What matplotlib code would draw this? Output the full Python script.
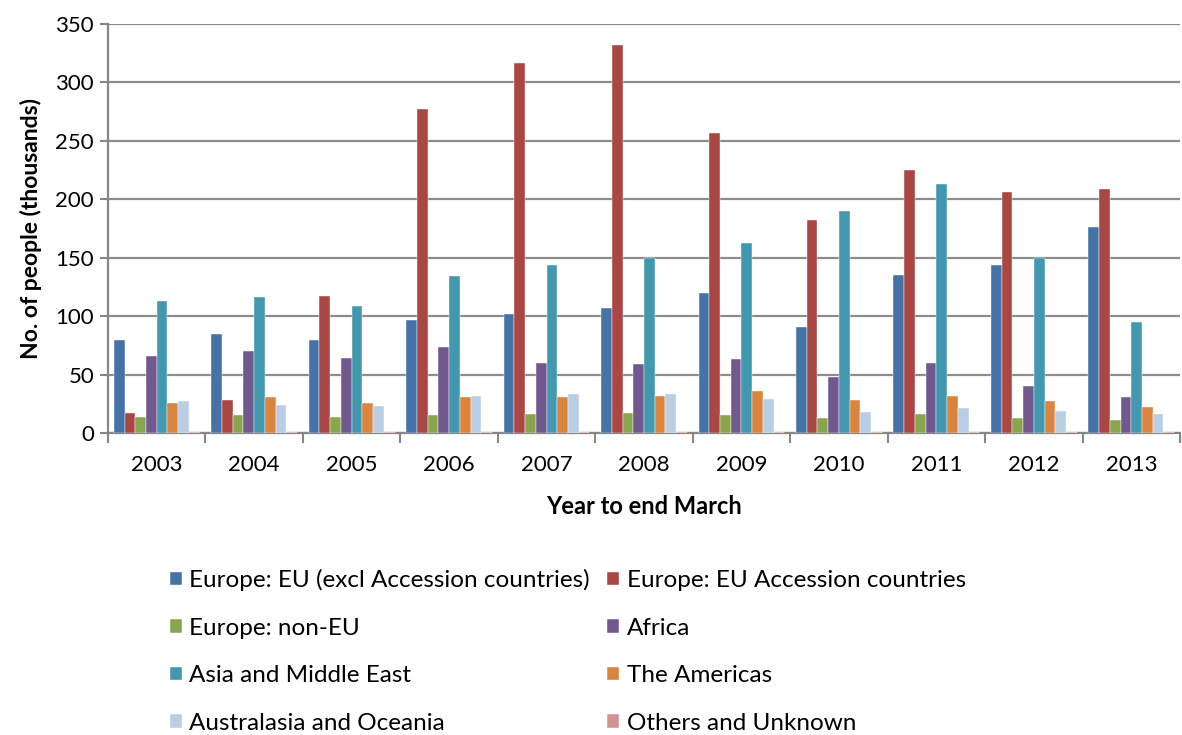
import matplotlib.pyplot as plt
import numpy as np

plt.rcParams['font.family'] = ['Lato', 'DejaVu Sans']

years = ['2003', '2004', '2005', '2006', '2007', '2008', '2009', '2010', '2011', '2012', '2013']

eu_excl = [80, 85, 80, 97, 102, 107, 120, 91, 135, 144, 176]
eu_accession = [17, 28, 117, 277, 317, 332, 257, 182, 225, 206, 209]
europe_non_eu = [14, 15, 14, 15, 16, 17, 15, 13, 16, 13, 11]
africa = [66, 70, 64, 74, 60, 59, 63, 48, 60, 40, 31]
asia_me = [113, 116, 109, 134, 144, 150, 163, 190, 213, 150, 95]
americas = [26, 31, 26, 31, 31, 32, 36, 28, 32, 27, 22]
australasia = [27, 24, 23, 32, 33, 33, 29, 18, 21, 19, 16]
others = [0.8, 0.5, 0.5, 0.5, 0.5, 0.5, 0.5, 0.5, 0.8, 0.5, 0.5]

series = [
    ('Europe: EU (excl Accession countries)', eu_excl, '#4572A7'),
    ('Europe: EU Accession countries', eu_accession, '#AA4643'),
    ('Europe: non-EU', europe_non_eu, '#89A54E'),
    ('Africa', africa, '#71588F'),
    ('Asia and Middle East', asia_me, '#4198AF'),
    ('The Americas', americas, '#DB843D'),
    ('Australasia and Oceania', australasia, '#B9CDE5'),
    ('Others and Unknown', others, '#D19392'),
]

W, H = 1182, 735
fig = plt.figure(figsize=(W / 100, H / 100), dpi=100)
ax = fig.add_axes([108 / W, (H - 433) / H, (1180 - 108) / W, (433 - 24) / H])

x = np.arange(len(years))
bw = 0.11
handles = []
for i, (name, vals, col) in enumerate(series):
    b = ax.bar(x + (i - 3.5) * bw, vals, bw, color=col, label=name, zorder=3,
               edgecolor='white', linewidth=0.3)
    handles.append(b)

ax.set_xlim(-0.5, len(years) - 0.5)
ax.set_ylim(0, 350)
ax.set_yticks(np.arange(0, 351, 50))
ax.set_xticks(x)
ax.set_xticklabels(years)
ax.set_xticks(np.arange(-0.5, len(years), 1), minor=True)
ax.tick_params(axis='x', which='major', length=0, labelsize=16, pad=16)
ax.tick_params(axis='x', which='minor', length=7, width=1.5, color='#868686')
ax.tick_params(axis='y', length=6, width=1.5, color='#868686', labelsize=16, pad=4)
ax.grid(axis='y', color='#8c8c8c', linewidth=1.6, zorder=0)
ax.set_axisbelow(True)
for s in ['top', 'right']:
    ax.spines[s].set_visible(False)
for s in ['left', 'bottom']:
    ax.spines[s].set_color('#868686')
    ax.spines[s].set_linewidth(1.6)

ax.set_ylabel('No. of people (thousands)', fontsize=16.5, fontweight='bold', labelpad=10)
ax.set_xlabel('Year to end March', fontsize=17, fontweight='bold', labelpad=14)

order = [0, 2, 4, 6, 1, 3, 5, 7]
fig.legend([handles[i] for i in order], [series[i][0] for i in order],
           loc='upper left', bbox_to_anchor=(170 / W, 1 - 569 / H), ncol=2,
           frameon=False, fontsize=17.5, handlelength=0.5, handleheight=0.5,
           handletextpad=0.3, columnspacing=0.7, labelspacing=1.09,
           borderaxespad=0, borderpad=0)

fig.savefig('out.png', dpi=100)
